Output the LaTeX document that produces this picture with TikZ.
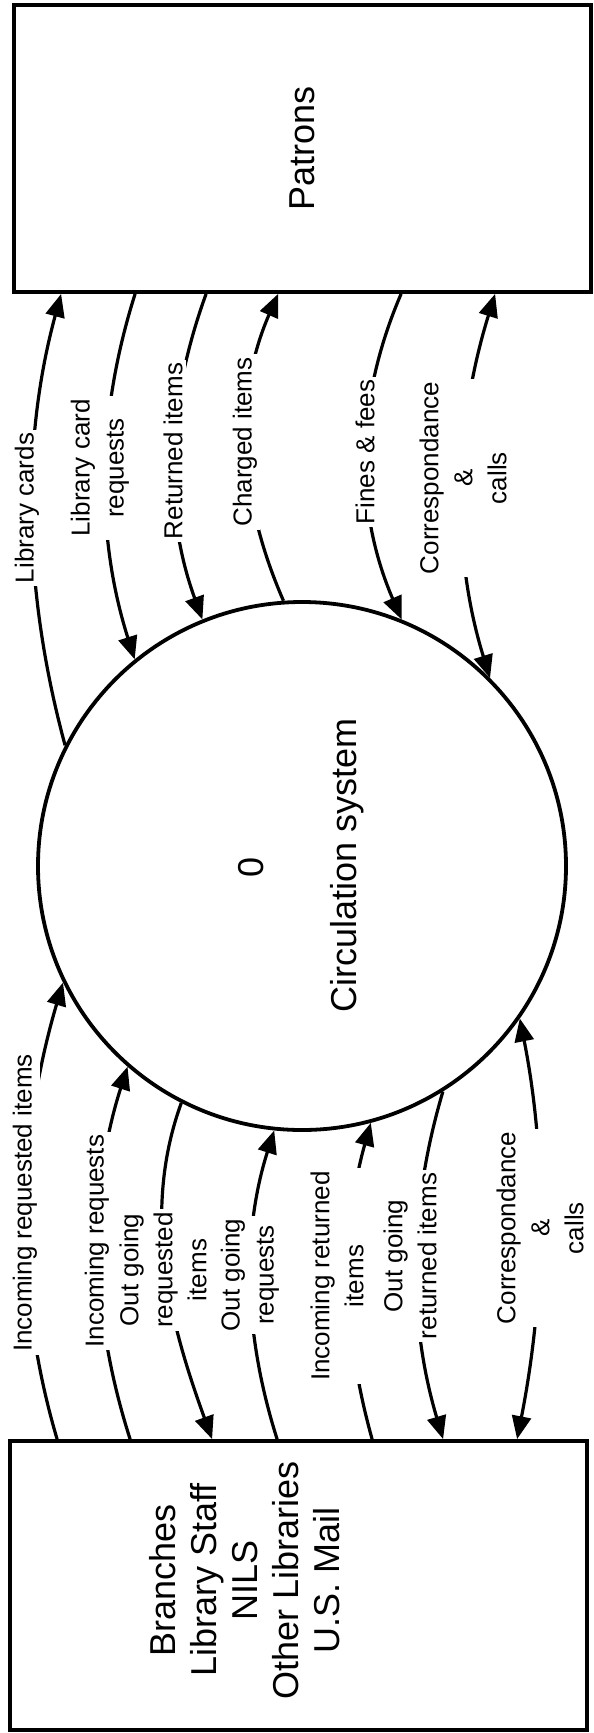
\documentclass[tikz,border=0pt]{standalone}
\usepackage{fontspec}
\setmainfont{Liberation Sans}
\usetikzlibrary{arrows.meta}

\begin{document}
\begin{tikzpicture}[x=1pt, y=-1pt,
  box/.style={draw, rectangle, line width=3.8pt, inner sep=0pt},
  proc/.style={draw, circle, line width=3.8pt, inner sep=0pt},
  bigtext/.style={font=\fontsize{36}{44}\selectfont},
  tip/.tip={Triangle[length=23pt, width=19pt]},
  flow/.style={line width=3.2pt},
  toend/.style={flow, -tip},
  tostart/.style={flow, tip-},
  twoway/.style={flow, tip-tip},
  lbl/.style={rotate=90, fill=white, inner sep=3pt, align=center,
              font=\fontsize{26}{34}\selectfont},
]
% page
\fill[white] (0,0) rectangle (594,1733);
\useasboundingbox (0,0) rectangle (594,1733);

% external entities and the process
\node[box, minimum width=577pt, minimum height=287pt, bigtext] (patrons)
  at (302.5,148.5) {\rotatebox{90}{Patrons}};
\node[box, minimum width=577pt, minimum height=289pt] (others)
  at (298.5,1585.5) {};
\node[rotate=90, align=center, font=\fontsize{36}{41}\selectfont] (otherstext)
  at (245,1580) {Branches\\Library Staff\\NILS\\Other Libraries\\U.S. Mail};
\node[proc, minimum size=528pt] (proc) at (302,866) {};
\node[rotate=90, bigtext] (procnum) at (251,867) {0};
\node[rotate=90, bigtext] (procname) at (347,865) {Circulation system};

% flows between the process and Patrons
\draw[toend]   (proc.153)   .. controls +(-41,-151) and +(-41,151) .. ([xshift=49pt]patrons.south west);
\draw[tostart] (proc.129)   .. controls +(-39,-123) and +(-39,123) .. ([xshift=123pt]patrons.south west);
\draw[tostart] (proc.112.4) .. controls +(-40,-110) and +(-40,110) .. ([xshift=194pt]patrons.south west);
\draw[toend]   (proc.94.3)  .. controls +(-45,-103) and +(-45,103) .. ([xshift=266pt]patrons.south west);
\draw[tostart] (proc.68.9)  .. controls +(-47,-109) and +(-47,109) .. ([xshift=389pt]patrons.south west);
\draw[twoway]  (proc.45)    .. controls +(-40,-129) and +(-40,129) .. ([xshift=483pt]patrons.south west);

% flows between the process and the other agencies
\draw[tostart] (proc.206.9) .. controls +(-45,152) and +(-45,-152) .. ([xshift=49pt]others.north west);
\draw[tostart] (proc.229.4) .. controls +(-40,125) and +(-40,-125) .. ([xshift=122pt]others.north west);
\draw[toend]   (proc.243.1) .. controls +(-41,113) and +(-41,-113) .. ([xshift=204pt]others.north west);
\draw[tostart] (proc.264.6) .. controls +(-33,104) and +(-33,-104) .. ([xshift=269pt]others.north west);
\draw[tostart] (proc.285.5) .. controls +(-30,107) and +(-30,-107) .. ([xshift=364pt]others.north west);
\draw[toend]   (proc.302.9) .. controls +(-35,118) and +(-35,-118) .. ([xshift=435pt]others.north west);
\draw[twoway]  (proc.325.4) .. controls +(28,142)  and +(28,-142)  .. ([xshift=509pt]others.north west);

% flow labels
\node[lbl] (l1) at (27,508)  {Library cards};
\node[lbl] (l2) at (100,468) {Library card\\requests};
\node[lbl] (l3) at (173,451) {Returned items};
\node[lbl] (l4) at (245,442) {Charged items};
\node[lbl] (l5) at (365,452) {Fines \& fees};
\node[lbl] (l6) at (463,478) {Correspondance\\\&\\calls};

\node[lbl] (m1) at (25,1203)  {Incoming requested items};
\node[lbl] (m2) at (97,1241)  {Incoming requests};
\node[lbl] (m3) at (163,1270) {Out going\\requested\\items};
\node[lbl] (m4) at (250,1275) {Out going\\requests};
\node[lbl] (m5) at (337,1276) {Incoming returned\\items};
\node[lbl] (m6) at (410,1256) {Out going\\returned items};
\node[lbl] (m7) at (540,1228) {Correspondance\\\&\\calls};
\end{tikzpicture}
\end{document}
